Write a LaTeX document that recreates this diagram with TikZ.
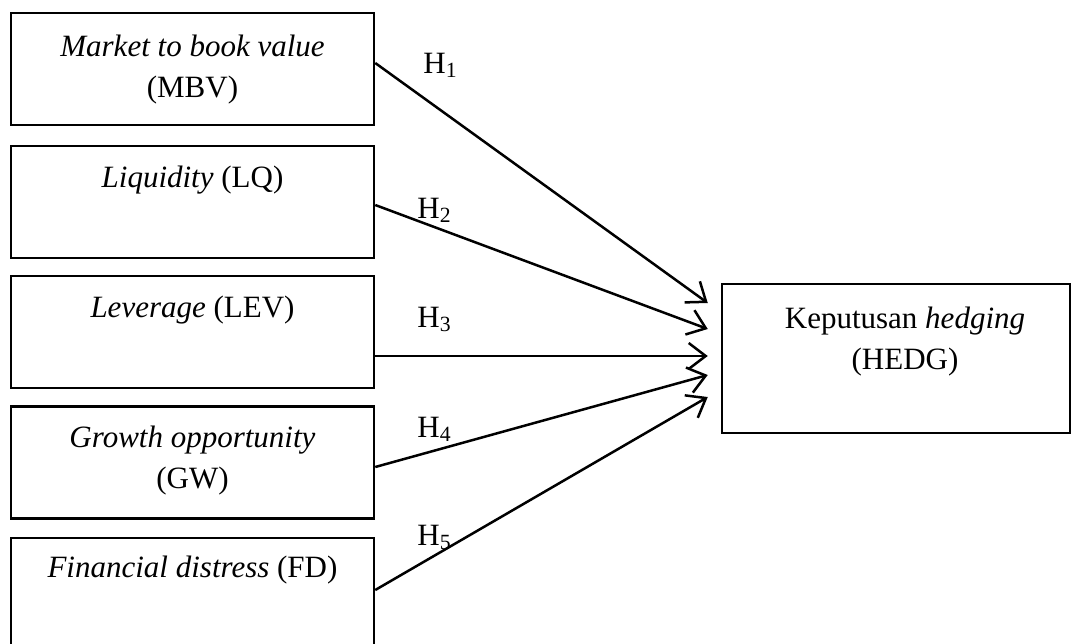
\documentclass[tikz,border=0pt]{standalone}
\usepackage{fontspec}
\setmainfont{Liberation Serif}
\usetikzlibrary{calc}
\usetikzlibrary{arrows.meta}
\usetikzlibrary{calc,positioning}

\tikzset{
  varbox/.style={draw, line width=1.25pt, inner sep=0pt,
                 minimum width=181.5pt, minimum height=56pt},
  varlabel/.style={font=\fontsize{15.5}{20.5}\selectfont, inner sep=0pt, align=center},
  hyparrow/.style={line width=1.25pt, -{Straight Barb[length=8.5pt,width=13pt]}}
}

\begin{document}
\begin{tikzpicture}[x=0.5pt,y=-0.5pt]
       \useasboundingbox (0,0) rectangle (1071,643);
       
       \node[varbox] (mbv) at (192.5,69) {};
       \node[varbox] (lq) at (192.5,202) {};
       \node[varbox] (lev) at (192.5,332) {};
       \node[varbox] (gw) at (192.5,462.5) {};
       \node[varbox] (fd) at (192.5,594) {};
       
       \node[varbox, minimum width=174pt, minimum height=74.5pt] (hedg) at (896,358.5) {};
       
       \node[varlabel] (mbvtext) at (192.5,70) {\textit{Market to book value}\\(MBV)};
       \node[varlabel, anchor=base] (lqtext) at (192.5,187) {\textit{Liquidity} (LQ)};
       \node[varlabel, anchor=base] (levtext) at (192.5,317) {\textit{Leverage} (LEV)};
       \node[varlabel] (gwtext) at (192.5,460.5) {\textit{Growth opportunity}\\(GW)};
       \node[varlabel, anchor=base] (fdtext) at (192.5,577) {\textit{Financial distress} (FD)};
       
       \node[varlabel] (hedgtext) at (905,342) {Keputusan \textit{hedging}\\(HEDG)};
       
       % start and end points of the hypothesis arrows
       \coordinate (s1) at ($(mbv.east)+(0,-6)$);
       \coordinate (s2) at ($(lq.east)+(0,3)$);
       \coordinate (s3) at ($(lev.east)+(0,24)$);
       \coordinate (s4) at ($(gw.east)+(0,4.5)$);
       \coordinate (s5) at ($(fd.east)+(0,-4)$);
       
       \coordinate (t1) at ($(hedg.west)+(-13,-55.5)$);
       \coordinate (t2) at ($(hedg.west)+(-13,-29.5)$);
       \coordinate (t3) at ($(hedg.west)+(-13,-2.5)$);
       \coordinate (t4) at ($(hedg.west)+(-13,16.5)$);
       \coordinate (t5) at ($(hedg.west)+(-13,38.5)$);
       
       \draw[hyparrow] (s1) -- (t1);
       \draw[hyparrow] (s2) -- (t2);
       \draw[hyparrow] (s3) -- (t3);
       \draw[hyparrow] (s4) -- (t4);
       \draw[hyparrow] (s5) -- (t5);
       
       \node[varlabel, anchor=base west] (h1) at (423,73) {H\textsubscript{1}};
       \node[varlabel, anchor=base west] (h2) at (417,218) {H\textsubscript{2}};
       \node[varlabel, anchor=base west] (h3) at (417,327) {H\textsubscript{3}};
       \node[varlabel, anchor=base west] (h4) at (417,437) {H\textsubscript{4}};
       \node[varlabel, anchor=base west] (h5) at (417,545) {H\textsubscript{5}};
\end{tikzpicture}
\end{document}
